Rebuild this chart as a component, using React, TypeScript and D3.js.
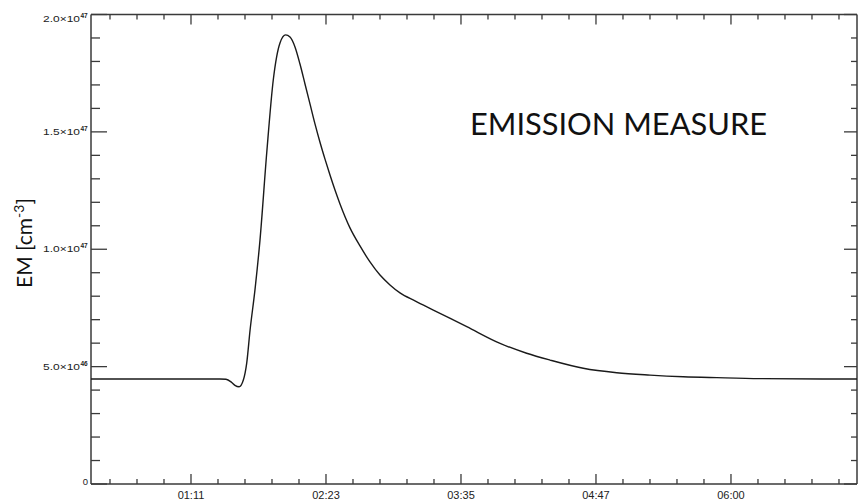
import React from "react";
import * as d3 from "d3";

// Time in minutes after 00:00, emission measure in units of 1e46 cm^-3
const times = [
  17.72, 86.7, 89.9, 92.6, 94.7, 96.9, 99.2, 101.0, 102.8, 105.4, 108.1, 111.7,
  115.2, 118.8, 121.8, 124.15, 126.82, 129.49, 132.17, 134.84, 137.51, 140.19,
  142.87, 145.54, 148.21, 150.89, 156.23, 161.58, 166.93, 172.28, 177.63,
  182.98, 191.0, 200.8, 218.7, 236.5, 250.7, 263.2, 281.0, 298.9, 316.7, 334.5,
  352.4, 375.5, 427.4,
];
const emValues = [
  4.47, 4.47, 4.46, 4.35, 4.2, 4.14, 4.43, 5.15, 6.56, 8.26, 10.39, 14.1, 17.21,
  18.79, 19.13, 19.04, 18.62, 17.89, 17.04, 16.19, 15.34, 14.56, 13.84, 13.16,
  12.52, 11.93, 10.91, 10.14, 9.46, 8.9, 8.48, 8.14, 7.8, 7.41, 6.7, 5.99,
  5.57, 5.28, 4.93, 4.74, 4.64, 4.57, 4.53, 4.49, 4.47,
];

const xMajorTicks = [71.2, 143.4, 215.6, 287.8, 360.0];
const xTickLabels = ["01:11", "02:23", "03:35", "04:47", "06:00"];
const xDomain = [17.72, 427.4];

const yMajorTicks = [0, 5, 10, 15, 20];
const yTickMantissa = ["0", "5.0×10", "1.0×10", "1.5×10", "2.0×10"];
const yTickExponent = ["", "46", "47", "47", "47"];
const yDomain = [0, 20];

const W = 858;
const H = 502;
const left = 91;
const right = 857;
const top = 14.5;
const bottom = 484;

export default function App() {
  const x = d3.scaleLinear().domain(xDomain).range([left, right]);
  const y = d3.scaleLinear().domain(yDomain).range([bottom, top]);

  const data = times.map((t, i) => [t, emValues[i]] as [number, number]);
  const line = d3
    .line<[number, number]>()
    .x((d) => x(d[0]))
    .y((d) => y(d[1]))
    .curve(d3.curveMonotoneX);

  // minor x ticks: five intervals per major step, extended over the whole axis
  const step = (xMajorTicks[1] - xMajorTicks[0]) / 5;
  const xMinor: number[] = [];
  for (let t = xMajorTicks[0]; t >= xDomain[0]; t -= step) xMinor.push(t);
  for (let t = xMajorTicks[0] + step; t <= xDomain[1]; t += step) xMinor.push(t);
  const isMajorX = (t: number) =>
    xMajorTicks.some((m) => Math.abs(m - t) < step / 10);

  const yMinor = d3.range(yDomain[0], yDomain[1] + 0.001, 1);
  const isMajorY = (v: number) => yMajorTicks.includes(Math.round(v * 100) / 100);

  const axisColor = "#3a3a3a";
  const labelColor = "#222";

  return (
    <svg
      width={W}
      height={H}
      style={{ position: "absolute", left: 0, top: 0, background: "#fff" }}
    >
      {/* frame */}
      <g stroke={axisColor} strokeWidth={1.5} fill="none">
        <line x1={left} x2={left} y1={top} y2={bottom} />
        <line x1={left} x2={right} y1={bottom} y2={bottom} />
        <line x1={left} x2={right} y1={top} y2={top} />
        <line x1={right} x2={right} y1={top} y2={bottom} />
      </g>

      {/* x ticks, bottom and top */}
      <g stroke={axisColor} strokeWidth={1.3}>
        {xMinor.map((t, i) => {
          const len = isMajorX(t) ? 10 : 5;
          const px = x(t);
          return (
            <g key={i}>
              <line x1={px} x2={px} y1={bottom} y2={bottom - len} />
              <line x1={px} x2={px} y1={top} y2={top + len} />
            </g>
          );
        })}
      </g>

      {/* y ticks, left and right */}
      <g stroke={axisColor} strokeWidth={1.3}>
        {yMinor.map((v, i) => {
          const major = isMajorY(v);
          const py = y(v);
          return (
            <g key={i}>
              <line x1={left} x2={left + (major ? 16 : 9)} y1={py} y2={py} />
              <line x1={right} x2={right - (major ? 13 : 6)} y1={py} y2={py} />
            </g>
          );
        })}
      </g>

      {/* x tick labels */}
      <g
        fontFamily="Liberation Sans, Arial, sans-serif"
        fontSize={11}
        fill={labelColor}
        textAnchor="middle"
      >
        {xMajorTicks.map((t, i) => (
          <text key={i} x={x(t)} y={499}>
            {xTickLabels[i]}
          </text>
        ))}
      </g>

      {/* y tick labels */}
      <g fontFamily="Liberation Sans, Arial, sans-serif" fill={labelColor}>
        {yMajorTicks.map((v, i) => {
          const py = y(v);
          if (!yTickExponent[i]) {
            return (
              <text key={i} x={88} y={py + 1} fontSize={9.5} textAnchor="end">
                {yTickMantissa[i]}
              </text>
            );
          }
          const yy = i === yMajorTicks.length - 1 ? py + 7.5 : py + 3;
          return (
            <g key={i}>
              <text
                x={43}
                y={yy}
                fontSize={8.5}
                textLength={37}
                lengthAdjust="spacingAndGlyphs"
              >
                {yTickMantissa[i]}
              </text>
              <text x={80.5} y={yy - 4} fontSize={6.5} fontWeight="bold">
                {yTickExponent[i]}
              </text>
            </g>
          );
        })}
      </g>

      {/* curve */}
      <path
        d={line(data) || ""}
        fill="none"
        stroke="#1a1a1a"
        strokeWidth={1.4}
        strokeLinejoin="round"
      />

      {/* y axis title */}
      <text
        transform={`translate(32, 243) rotate(-90)`}
        fontFamily="Lato, 'Open Sans', sans-serif"
        fontSize={21}
        fill="#111"
        textAnchor="middle"
      >
        EM [cm
        <tspan fontSize={14} dy={-8}>
          -3
        </tspan>
        <tspan dy={8}>]</tspan>
      </text>

      {/* panel title */}
      <text
        x={470}
        y={135}
        fontFamily="Lato, 'Open Sans', sans-serif"
        fontSize={30}
        fill="#111"
        textLength={297}
        lengthAdjust="spacingAndGlyphs"
      >
        EMISSION MEASURE
      </text>
    </svg>
  );
}
